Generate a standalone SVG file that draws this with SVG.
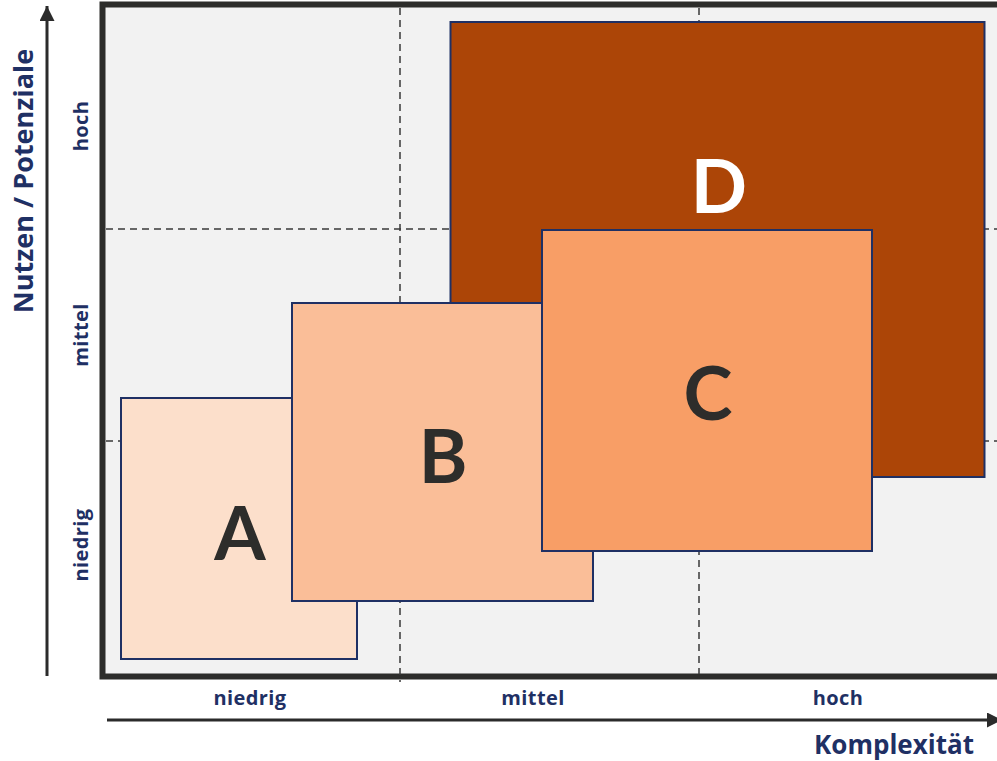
<svg xmlns="http://www.w3.org/2000/svg" width="997" height="761" viewBox="0 0 997 761">
  <style>
    .grid { stroke: #3a3a3a; stroke-width: 1.5; stroke-dasharray: 7 5; fill: none; }
    .box { stroke: #1f3064; stroke-width: 2; }
    .axis { stroke: #2b2b2b; stroke-width: 3; fill: none; }
    .lbl { font-family: "Open Sans", "Noto Sans", sans-serif; font-weight: bold; fill: #1f3064; text-anchor: middle; }
    .tick { font-size: 20px; letter-spacing: 0.4px; }
    .title { font-size: 27px; }
    .big { font-family: Lato, "Open Sans", sans-serif; font-weight: bold; font-size: 74px; text-anchor: middle; }
  </style>
  <defs>
    <marker id="arrow" viewBox="0 0 10 10" refX="10" refY="5" markerWidth="5" markerHeight="5" orient="auto" markerUnits="strokeWidth">
      <path d="M0,0 L10,5 L0,10 z" fill="#2b2b2b"/>
    </marker>
  </defs>

  <!-- plot area -->
  <rect x="102.5" y="4.5" width="910" height="672" fill="#f2f2f2" stroke="#2d2d2b" stroke-width="6"/>

  <!-- grid -->
  <g id="grid">
    <line class="grid" x1="400" y1="8" x2="400" y2="682"/>
    <line class="grid" x1="699" y1="8" x2="699" y2="674"/>
    <line class="grid" x1="106" y1="229" x2="997" y2="229"/>
    <line class="grid" x1="106" y1="441" x2="997" y2="441"/>
  </g>

  <!-- axes -->
  <g id="connectors">
    <line class="axis" x1="47" y1="676" x2="47" y2="6" marker-end="url(#arrow)"/>
    <line class="axis" x1="107" y1="720" x2="1002" y2="720" marker-end="url(#arrow)"/>
  </g>

  <!-- axis labels -->
  <g id="y-labels">
    <text class="lbl title" transform="translate(33,181) rotate(-90)">Nutzen / Potenziale</text>
    <text class="lbl tick" transform="translate(88,126) rotate(-90)">hoch</text>
    <text class="lbl tick" transform="translate(88,335) rotate(-90)">mittel</text>
    <text class="lbl tick" transform="translate(88,545) rotate(-90)">niedrig</text>
  </g>
  <g id="x-labels">
    <text class="lbl tick" x="250" y="705">niedrig</text>
    <text class="lbl tick" x="533" y="705">mittel</text>
    <text class="lbl tick" x="838" y="705">hoch</text>
    <text class="lbl" font-size="26" x="894" y="754">Komplexität</text>
  </g>

  <!-- quadrant boxes, back to front -->
  <g id="box-D">
    <rect class="box" x="450.5" y="22" width="534" height="455" fill="#ac4507"/>
    <text class="big" x="719" y="213" fill="#ffffff">D</text>
  </g>
  <g id="box-A">
    <rect class="box" x="121" y="398" width="236" height="261" fill="#fcdfcb"/>
    <text class="big" x="240" y="560" fill="#2d2d2b">A</text>
  </g>
  <g id="box-B">
    <rect class="box" x="292" y="303" width="301" height="298" fill="#fabe98"/>
    <text class="big" x="443" y="483" fill="#2d2d2b">B</text>
  </g>
  <g id="box-C">
    <rect class="box" x="542" y="230" width="330" height="321" fill="#f89e66"/>
    <text class="big" x="708" y="420" fill="#2d2d2b">C</text>
  </g>
</svg>
